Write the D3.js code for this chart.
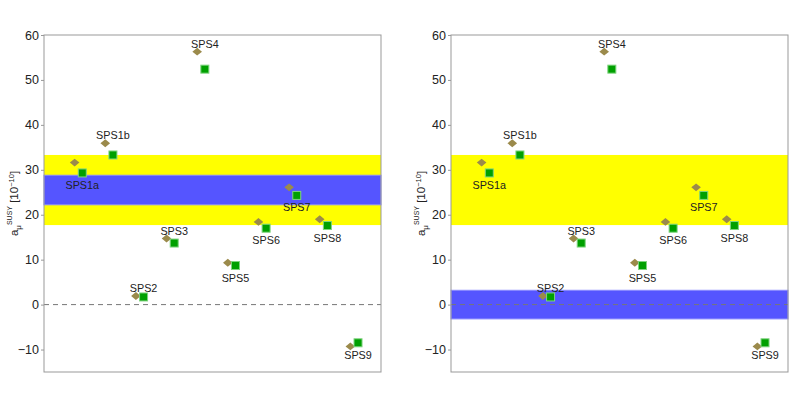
<!DOCTYPE html>
<html>
<head>
<meta charset="utf-8">
<script src="https://cdn.jsdelivr.net/npm/d3@7"></script>
<style>
body { margin: 0; background: #fff; }
svg text { font-family: "Liberation Sans", Arial, sans-serif; }
</style>
</head>
<body>
<div id="chart"></div>
<script>
var points = ['SPS1a', 'SPS1b', 'SPS2', 'SPS3', 'SPS4', 'SPS5', 'SPS6', 'SPS7', 'SPS8', 'SPS9'];
var diamondVals = [31.6, 35.9, 1.9, 14.7, 56.3, 9.3, 18.4, 26.1, 19.0, -9.3];
var squareVals = [29.3, 33.3, 1.7, 13.7, 52.4, 8.7, 17.0, 24.3, 17.6, -8.5];
var labelAbove = ['SPS1b', 'SPS2', 'SPS3', 'SPS4'];
var yTicks = [-10, 0, 10, 20, 30, 40, 50, 60];
var yellowBand = [17.7, 33.3];
var blueBands = [[22.1, 28.9], [-3.3, 3.3]];

var W = 789, H = 420;
var svg = d3.select('#chart').append('svg')
    .attr('width', W)
    .attr('height', H);

var panelLeft = [44, 451];
var pw = 337, plotTop = 35, plotBottom = 372;

var y = d3.scaleLinear().domain([-15, 60]).range([plotBottom, plotTop]);

// squat diamond, a bit wider than tall
var flatDiamond = {
    draw: function(ctx, size) {
        var w = Math.sqrt(size) * 0.68, h = w * 0.82;
        ctx.moveTo(-w, 0);
        ctx.lineTo(0, -h);
        ctx.lineTo(w, 0);
        ctx.lineTo(0, h);
        ctx.closePath();
    }
};

function drawPanel(px, blue) {
    var g = svg.append('g').attr('transform', 'translate(' + px + ',0)');
    var x = d3.scaleLinear().domain([0, 11]).range([0, pw]);

    g.append('rect')
        .attr('x', 0).attr('width', pw)
        .attr('y', y(yellowBand[1]))
        .attr('height', y(yellowBand[0]) - y(yellowBand[1]))
        .attr('fill', '#ffff00');
    g.append('rect')
        .attr('x', 0).attr('width', pw)
        .attr('y', y(blue[1]) + 0.5)
        .attr('height', y(blue[0]) - y(blue[1]) - 1)
        .attr('fill', '#5555ff')
        .attr('stroke', '#8a8aff')
        .attr('stroke-width', 1);

    g.append('line')
        .attr('x1', 0).attr('x2', pw)
        .attr('y1', y(0)).attr('y2', y(0))
        .attr('stroke', '#777')
        .attr('stroke-dasharray', '5,4');

    // frame
    g.append('rect')
        .attr('x', 0).attr('y', plotTop)
        .attr('width', pw).attr('height', plotBottom - plotTop)
        .attr('fill', 'none')
        .attr('stroke', '#999');

    var ax = g.append('g').call(d3.axisLeft(y).tickValues(yTicks).tickSize(3).tickPadding(2));
    ax.select('.domain').remove();
    ax.selectAll('line').attr('stroke', '#999');
    ax.selectAll('text').attr('font-size', '12.5px').attr('fill', '#222')
        .style('font-family', '"Liberation Sans", Arial, sans-serif');

    var diamond = d3.symbol().type(flatDiamond).size(50);
    g.selectAll('.dia').data(points).enter().append('path')
        .attr('class', 'dia')
        .attr('d', diamond)
        .attr('transform', function(d, i) { return 'translate(' + x(i + 1) + ',' + y(diamondVals[i]) + ')'; })
        .attr('fill', '#9b8a4b');

    var sq = 8;
    g.selectAll('.sq').data(points).enter().append('rect')
        .attr('class', 'sq')
        .attr('x', function(d, i) { return x(i + 1.25) - sq / 2; })
        .attr('y', function(d, i) { return y(squareVals[i]) - sq / 2; })
        .attr('width', sq).attr('height', sq)
        .attr('fill', '#00a000')
        .attr('stroke', '#7fd47f')
        .attr('stroke-width', 1);

    g.selectAll('.lab').data(points).enter().append('text')
        .attr('class', 'lab')
        .attr('x', function(d, i) { return x(i + 1.25); })
        .attr('y', function(d, i) {
            if (labelAbove.indexOf(d) >= 0) return y(diamondVals[i]) - 8 + 4;
            return y(squareVals[i]) + 12 + 4;
        })
        .attr('text-anchor', 'middle')
        .attr('font-size', '10.8px')
        .attr('fill', '#222')
        .text(function(d) { return d; });

    // y axis title
    var t = svg.append('text')
        .attr('transform', 'translate(' + (px - 26) + ',' + ((plotTop + plotBottom) / 2) + ') rotate(-90)')
        .attr('text-anchor', 'middle')
        .attr('font-size', '11.5px')
        .attr('fill', '#222');
    t.append('tspan').text('a');
    t.append('tspan').attr('dy', 3).attr('font-size', '8px').text('μ');
    t.append('tspan').attr('dy', -9).attr('font-size', '7px').text('SUSY');
    t.append('tspan').attr('dy', 6).text(' [10');
    t.append('tspan').attr('dy', -4).attr('font-size', '7.5px').text('−10');
    t.append('tspan').attr('dy', 4).text(']');
}

drawPanel(panelLeft[0], blueBands[0]);
drawPanel(panelLeft[1], blueBands[1]);
</script>
</body>
</html>
